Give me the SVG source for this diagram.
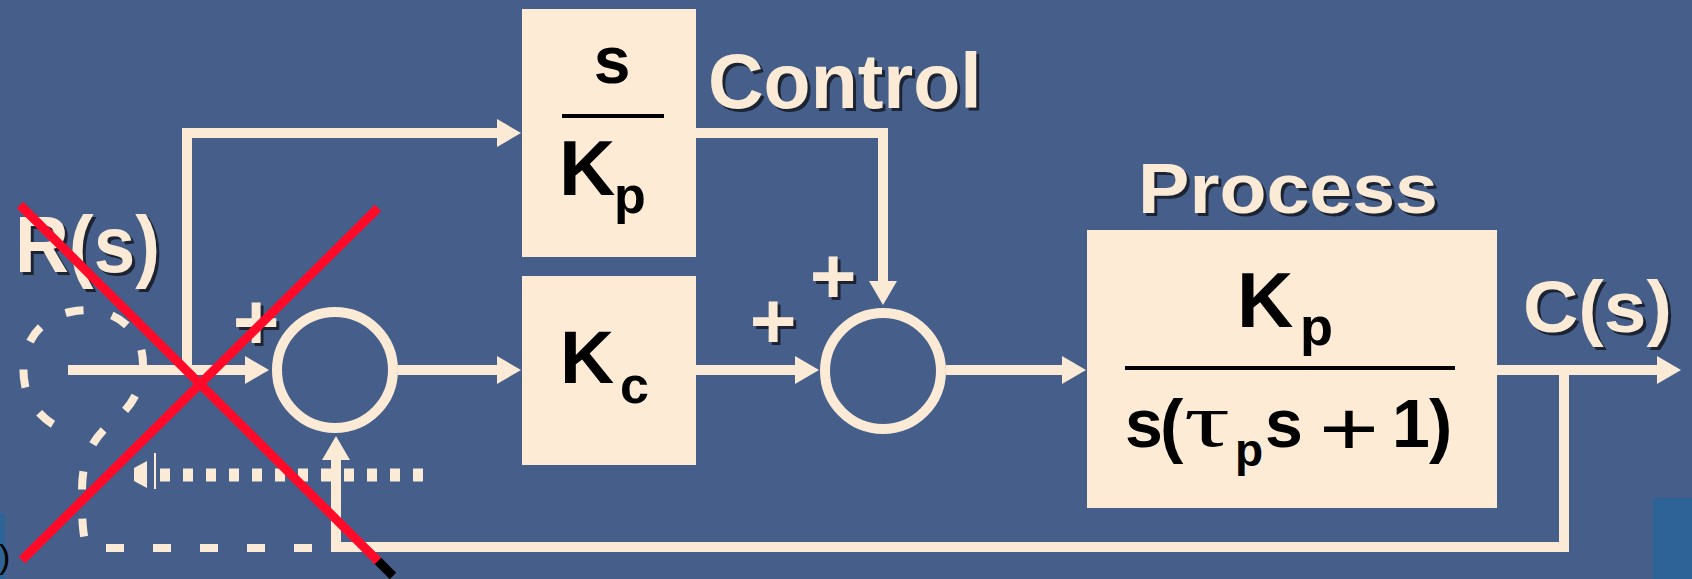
<svg xmlns="http://www.w3.org/2000/svg" width="1692" height="579" viewBox="0 0 1692 579">
<style>
.bg{fill:#465f8a}
.box{fill:#fdebd5}
.wire{fill:none;stroke:#fbebd6;stroke-width:10;stroke-linejoin:miter}
.sum{fill:none;stroke:#fbebd6;stroke-width:10}
.lbl{font-family:"Liberation Sans",Arial,sans-serif;font-weight:bold;fill:#fbebd6}
.sh{font-family:"Liberation Sans",Arial,sans-serif;font-weight:bold;fill:#1c2333}
.m{font-family:"Liberation Sans",Arial,sans-serif;font-weight:bold;fill:#000}
.mr{font-family:"Liberation Sans",Arial,sans-serif;font-weight:normal;fill:#000}
.frac{stroke:#000;stroke-width:4}
.dash{fill:none;stroke:#fbebd6;stroke-width:8;stroke-dasharray:18 29}
.red{stroke:#ff0a28;stroke-width:9;stroke-linecap:butt}
</style>
<defs>
<marker id="ah" markerUnits="userSpaceOnUse" viewBox="0 0 24 28" markerWidth="24" markerHeight="28" refX="1" refY="14" orient="auto">
<path d="M0,0 L24,14 L0,28 z" fill="#fbebd6"/>
</marker>
</defs>
<rect class="bg" x="0" y="0" width="1692" height="579"/>
<rect x="1653" y="498" width="39" height="81" fill="#2d6396"/>
<rect x="0" y="513" width="5" height="66" fill="#2d6396"/>
<text x="-1" y="568" font-family="Liberation Sans,Arial,sans-serif" font-size="34" fill="#000">)</text>

<g id="connectors">
<path class="wire" d="M68,370 H246" marker-end="url(#ah)"/>
<path class="wire" d="M187,370 V133 H498" marker-end="url(#ah)"/>
<path class="wire" d="M398,370 H498" marker-end="url(#ah)"/>
<path class="wire" d="M696,370 H796" marker-end="url(#ah)"/>
<path class="wire" d="M696,133 H883 V282" marker-end="url(#ah)"/>
<path class="wire" d="M946,370 H1063" marker-end="url(#ah)"/>
<path class="wire" d="M1497,370 H1658" marker-end="url(#ah)"/>
<path class="wire" d="M1564,370 V547 H336 V459" marker-end="url(#ah)"/>
</g>

<g id="sum1">
<circle class="sum" cx="335" cy="370" r="58"/>
</g>
<g id="sum2">
<circle class="sum" cx="883" cy="371" r="58"/>
</g>

<g id="box-derivative">
<rect class="box" x="522" y="9" width="174" height="248"/>
<text class="m" x="612" y="83" font-size="66" text-anchor="middle">s</text>
<line class="frac" x1="562" y1="116" x2="664" y2="116"/>
<text class="m" x="559" y="195" font-size="78">K</text>
<text class="m" x="614" y="213" font-size="52">p</text>
</g>

<g id="box-kc">
<rect class="box" x="522" y="276" width="174" height="189"/>
<text class="m" x="560" y="383" font-size="75">K</text>
<text class="m" x="620" y="403" font-size="52">c</text>
</g>

<g id="box-process">
<rect class="box" x="1087" y="230" width="410" height="278"/>
<text class="m" x="1237" y="327" font-size="78">K</text>
<text class="m" x="1300" y="345" font-size="54">p</text>
<line class="frac" x1="1125" y1="368" x2="1455" y2="368"/>
<text class="m" x="1125" y="447" font-size="68">s</text>
<text class="m" x="1160" y="449" font-size="70">(</text>
<text x="1184" y="446" font-family="Liberation Serif,'Times New Roman',serif" font-size="76" textLength="46" lengthAdjust="spacingAndGlyphs" fill="#000">τ</text>
<text class="m" x="1235" y="466" font-size="46">p</text>
<text class="m" x="1265" y="447" font-size="68">s</text>
<text class="mr" x="1319" y="455" font-size="76" textLength="60" lengthAdjust="spacingAndGlyphs">+</text>
<text class="m" x="1392" y="447" font-size="68">1</text>
<text class="m" x="1429" y="449" font-size="70">)</text>
</g>

<g id="labels">
<text class="sh" x="18" y="275" font-size="80" textLength="145" lengthAdjust="spacingAndGlyphs">R(s)</text>
<text class="lbl" x="15" y="272" font-size="80" textLength="145" lengthAdjust="spacingAndGlyphs">R(s)</text>
<text class="sh" x="711" y="111" font-size="77">Control</text>
<text class="lbl" x="708" y="108" font-size="77">Control</text>
<text class="sh" x="1141" y="216" font-size="70" textLength="300" lengthAdjust="spacingAndGlyphs">Process</text>
<text class="lbl" x="1138" y="213" font-size="70" textLength="300" lengthAdjust="spacingAndGlyphs">Process</text>
<text class="sh" x="1526" y="335" font-size="73" textLength="149" lengthAdjust="spacingAndGlyphs">C(s)</text>
<text class="lbl" x="1523" y="332" font-size="73" textLength="149" lengthAdjust="spacingAndGlyphs">C(s)</text>
<text class="sh" x="259" y="352" font-size="80" text-anchor="middle">+</text>
<text class="lbl" x="256" y="349" font-size="80" text-anchor="middle">+</text>
<text class="sh" x="776" y="351" font-size="80" text-anchor="middle">+</text>
<text class="lbl" x="773" y="348" font-size="80" text-anchor="middle">+</text>
<text class="sh" x="836" y="306" font-size="80" text-anchor="middle">+</text>
<text class="lbl" x="833" y="303" font-size="80" text-anchor="middle">+</text>
</g>

<g id="artifacts">
<path class="dash" d="M312,548 H92 C82,548 82,520 82,490 C82,455 95,435 115,420 C140,400 148,370 140,345 C130,318 100,305 70,312 C35,320 18,350 25,385 C30,410 50,425 65,430"/>
<line x1="160" y1="475" x2="425" y2="475" stroke="#fbebd6" stroke-width="13" stroke-dasharray="10 13"/>
<polygon points="134,468 147,461 147,488 134,481" fill="#fbebd6"/>
<line x1="155" y1="453" x2="155" y2="489" stroke="#fbebd6" stroke-width="2"/>
</g>

<g id="cross">
<line class="red" x1="20" y1="205" x2="380" y2="563"/>
<line x1="378" y1="561" x2="393" y2="576" stroke="#000" stroke-width="9"/>
<line class="red" x1="378" y1="208" x2="22" y2="560"/>
</g>
</svg>
